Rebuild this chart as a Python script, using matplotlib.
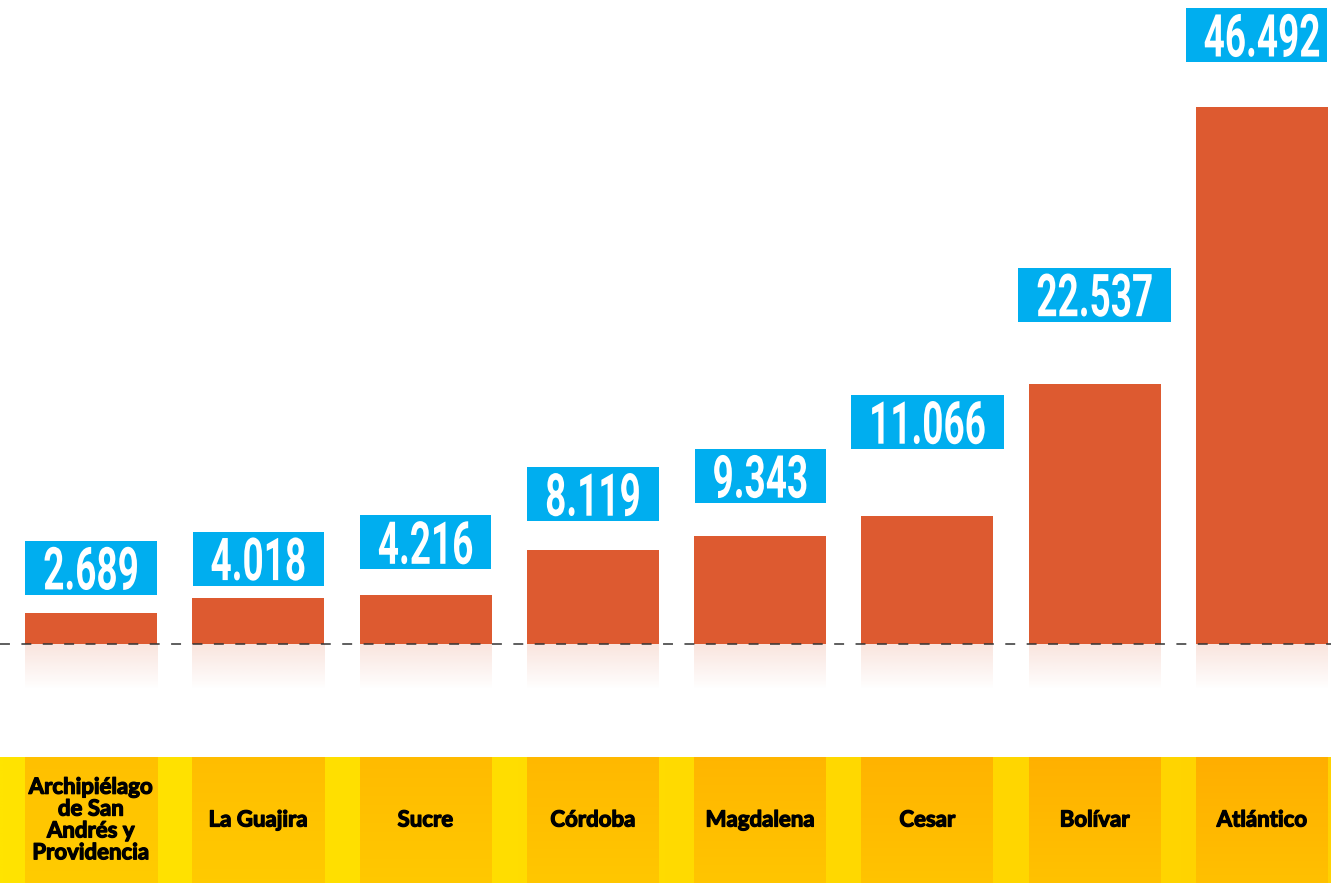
import numpy as np
import matplotlib
matplotlib.use("Agg")
import matplotlib.pyplot as plt
from matplotlib.patches import Rectangle
from matplotlib.patheffects import AbstractPathEffect, withStroke
from matplotlib.transforms import Affine2D
from matplotlib.colors import to_rgb

# ---------------- data ----------------
categories = ["Archipiélago\nde San\nAndrés y\nProvidencia", "La Guajira", "Sucre",
              "Córdoba", "Magdalena", "Cesar", "Bolívar", "Atlántico"]
values = [2.689, 4.018, 4.216, 8.119, 9.343, 11.066, 22.537, 46.492]
value_labels = ["2.689", "4.018", "4.216", "8.119", "9.343", "11.066", "22.537", "46.492"]

# ---------------- layout / style ----------------
W, H = 1331, 883
label_gap_px = [18, 12, 26, 29, 33, 67, 62, 45]   # space between bar top and label box
BAR_COLOR = "#DD5A30"
BOX_COLOR = "#00AEEF"
BAND_H = 126


class Squeeze(AbstractPathEffect):
    """Draw text paths scaled (sx, sy) around an anchor point (display px)."""
    def __init__(self, sx, sy, cx, cy):
        super().__init__()
        self.sx, self.sy, self.cx, self.cy = sx, sy, cx, cy

    def draw_path(self, renderer, gc, tpath, affine, rgbFace=None):
        a = affine + (Affine2D().translate(-self.cx, -self.cy)
                      .scale(self.sx, self.sy).translate(self.cx, self.cy))
        renderer.draw_path(gc, tpath, a, rgbFace)


fig = plt.figure(figsize=(W / 100, H / 100), dpi=100)
fig.patch.set_facecolor("white")
ax = fig.add_axes([0, 0, 1, 1])
ax.set_axis_off()
ax.patch.set_alpha(0)

n = len(values)
x = np.arange(n)
c0, c7 = 91, 1262
pxu = (c7 - c0) / (n - 1)
ax.set_xlim(-c0 / pxu, (n - 1) + (W - c7) / pxu)
yscale = 537 / 46.492          # px per unit
base_from_bottom = H - 644
ax.set_ylim(-base_from_bottom / yscale, (H - base_from_bottom) / yscale)
bar_w = 132 / pxu

ax.bar(x, values, width=bar_w, color=BAR_COLOR, zorder=2)

# reflections under bars
grad = np.linspace(0.16, 0.0, 64)
rc = to_rgb(BAR_COLOR)
refl = np.zeros((64, 2, 4))
refl[..., 0], refl[..., 1], refl[..., 2] = rc
refl[..., 3] = grad[:, None]
for xi in x:
    ax.imshow(refl, extent=[xi - bar_w / 2, xi + bar_w / 2, -46 / yscale, 0],
              aspect="auto", origin="upper", zorder=1, interpolation="bilinear")

# dashed baseline
ax.axhline(0, color="#333333", lw=1.1, linestyle=(0, (6.5, 7.5)), zorder=3)

# value labels in cyan boxes
renderer = fig.canvas.get_renderer()
inv = ax.transData.inverted()
SY = 1.42
SX = 0.625 * SY
for xi, v, lab, gap in zip(x, values, value_labels, label_gap_px):
    cx, top = ax.transData.transform((xi, v))
    box_bottom = top + gap
    baseline = box_bottom + 5.5
    _, ydata = inv.transform((cx, baseline))
    t = ax.text(xi, ydata, lab, ha="center", va="baseline", color="white",
                fontsize=30, fontweight="bold", family="Roboto", zorder=6)
    ext = t.get_window_extent(renderer)
    tw = ext.width * SX
    t.set_path_effects([Squeeze(SX, SY, cx, baseline)])
    pad = 18
    left = cx - tw / 2 - pad
    right = min(cx + tw / 2 + pad, W - 4)
    (x0d, y0d) = inv.transform((left, box_bottom))
    (x1d, y1d) = inv.transform((right, box_bottom + 54))
    ax.add_patch(Rectangle((x0d, y0d), x1d - x0d, y1d - y0d, color=BOX_COLOR, zorder=5, lw=0))

# ---------------- bottom band ----------------
bax = fig.add_axes([0, 0, 1, BAND_H / H])
bax.set_axis_off()
bax.set_xlim(ax.get_xlim())
bax.set_ylim(0, 1)

cl, cr = np.array(to_rgb("#FFE400")), np.array(to_rgb("#FFD200"))
tx = np.linspace(0, 1, 200)[None, :, None]
bg = np.repeat(cl * (1 - tx) + cr * tx, 2, axis=0)
xl = bax.get_xlim()
bax.imshow(bg, extent=[xl[0], xl[1], 0, 1], aspect="auto", zorder=0, interpolation="bilinear")

for xi, cat in zip(x, categories):
    frac = xi / (n - 1)
    top_c = np.array(to_rgb("#FFC000")) * (1 - frac) + np.array(to_rgb("#FFAE00")) * frac
    bot_c = np.array(to_rgb("#FFCC00")) * (1 - frac) + np.array(to_rgb("#FFC000")) * frac
    tt = np.linspace(0, 1, 50)[:, None, None]
    img = np.repeat(top_c * (1 - tt) + bot_c * tt, 2, axis=1)
    bax.imshow(img, extent=[xi - bar_w / 2, xi + bar_w / 2, 0, 1], aspect="auto",
               origin="upper", zorder=1, interpolation="bilinear")
    bax.text(xi, 0.5, cat, ha="center", va="center", fontsize=16, fontweight="bold",
             family="Lato", color="black", linespacing=1.05, zorder=2,
             path_effects=[withStroke(linewidth=0.9, foreground="black")])

fig.savefig("out.png", dpi=100, facecolor="white")
